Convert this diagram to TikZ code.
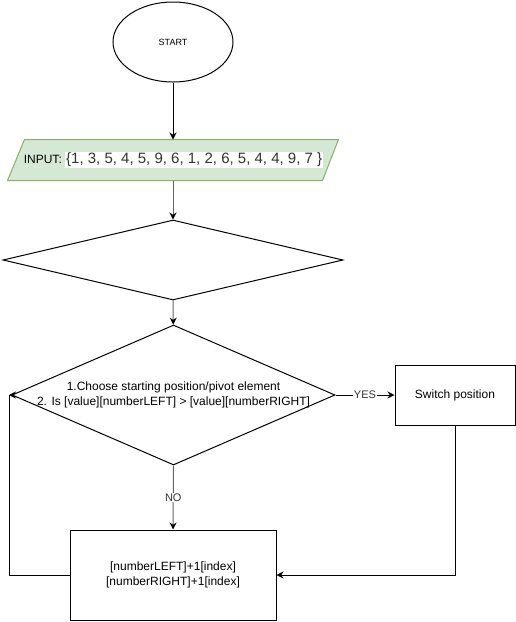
\documentclass[tikz,border=0pt]{standalone}
\usepackage{fontspec}
\setmainfont{Liberation Sans}
\usetikzlibrary{arrows.meta,shapes.geometric,positioning,calc}
\definecolor{io-green}{RGB}{213,232,212}
\definecolor{io-border}{RGB}{130,179,102}
\definecolor{line-gray}{RGB}{100,100,100}
\definecolor{text-gray}{RGB}{51,51,51}
\tikzstyle{arr}=[-{Stealth[length=7pt,width=7pt,color=black]}]
\tikzstyle{txt}=[inner sep=0pt, align=center, font=\fontsize{12}{15}\selectfont]
\tikzstyle{terminal}=[draw, ellipse, minimum width=120pt, minimum height=80pt, inner sep=0pt, font=\fontsize{9}{11}\selectfont]
\tikzstyle{inout}=[draw=io-border, fill=io-green]
\tikzstyle{decision}=[draw, diamond, inner sep=0pt]
\tikzstyle{process}=[draw, rectangle, inner sep=0pt]
\tikzstyle{edgelabel}=[fill=white, text=text-gray, inner sep=1pt, font=\fontsize{11}{13}\selectfont]

\begin{document}
\begin{tikzpicture}[x=1pt, y=-1pt, line width=1pt]
	\useasboundingbox (0,0) rectangle (516,622);
	\node[terminal] (start) at (173,42) {START};
	\node[minimum width=314pt, minimum height=40pt, inner sep=0pt] (input) at (173,160) {};
	\draw[inout] ($(input.south west)+(-8,0)$) -- ($(input.north west)+(9,0)$) -- ($(input.north east)+(8,0)$) -- ($(input.south east)+(-8,0)$) -- cycle;
	\node[txt] (inputtext) at (173.5,160) {INPUT: \textcolor{text-gray}{\fontsize{15}{18}\selectfont\setlength{\fboxsep}{1pt}\colorbox{white}{\{1, 3, 5, 4, 5, 9, 6, 1, 2, 6, 5, 4, 4, 9, 7 \}}}};
	\node[decision, minimum width=340pt, minimum height=80pt] (empty) at (173,260) {};
	\node[decision, minimum width=323pt, minimum height=140pt] (compare) at (173.5,395) {};
	\node[txt] (comparetext) at (173.5,394.5) {1.Choose starting position/pivot element\\{}2. Is [value][numberLEFT] > [value][numberRIGHT]};
	\node[process, minimum width=120pt, minimum height=60pt] (switch) at (455,395) {};
	\node[txt] (switchtext) at (switch.center) {Switch position};
	\node[process, minimum width=206pt, minimum height=90pt] (next) at (173,575) {};
	\node[txt] (nexttext) at (173,575) {[numberLEFT]+1[index]\\{}[numberRIGHT]+1[index]};
	\coordinate (loop) at (9,395);

	\draw[arr] (start) -- (input);
	\draw[arr, line-gray] (input) -- (empty);
	\draw[arr, line-gray] (empty) -- (compare);
	\draw[arr] (compare.east) -- node[edgelabel] {YES} (switch.west);
	\draw[arr, line-gray] (compare.south) -- node[edgelabel] {NO} (next.north);
	\draw[arr] (switch.south) |- (next.east);
	\draw (next.west) -| (loop);
	\draw[arr] (compare.west) -- (loop);
\end{tikzpicture}
\end{document}
